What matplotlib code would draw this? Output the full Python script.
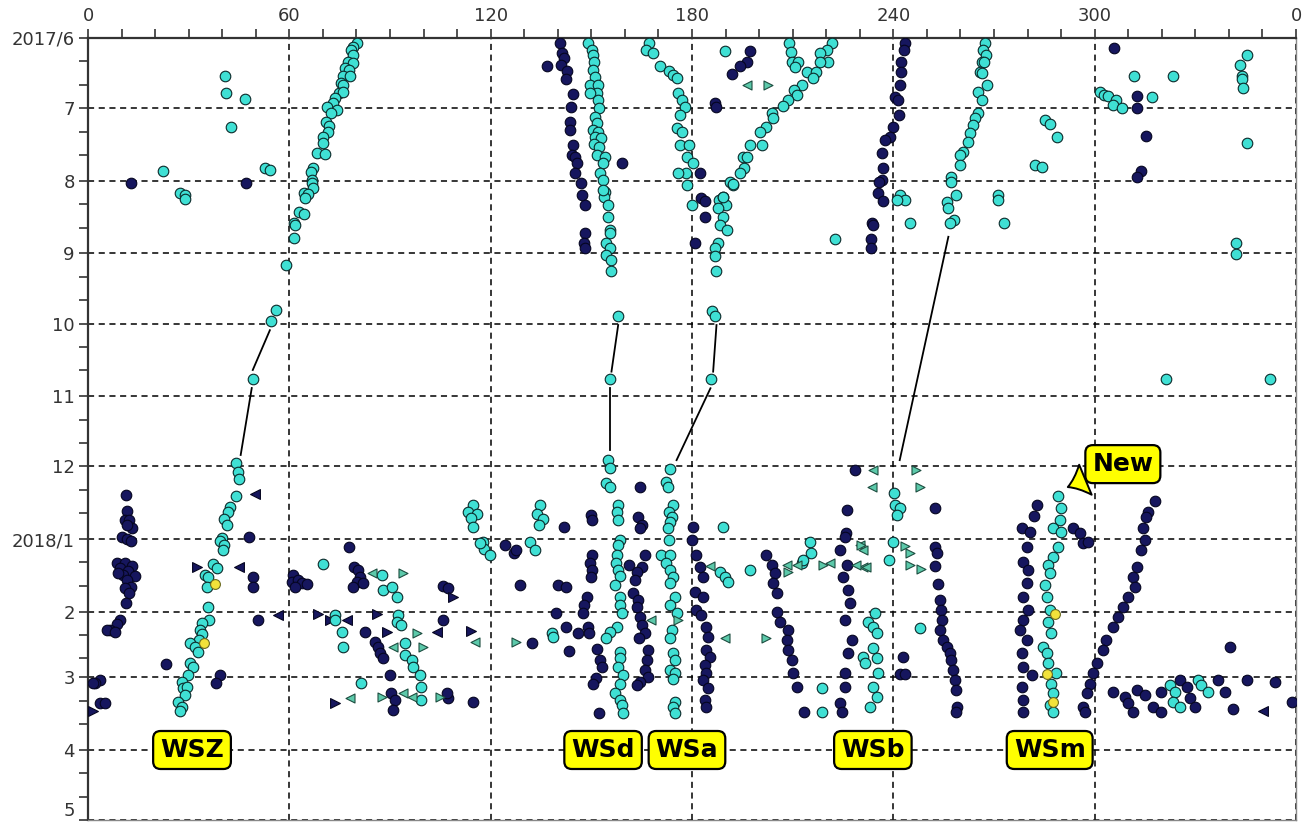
import numpy as np
import pandas as pd
import matplotlib
matplotlib.use('Agg')
import matplotlib.pyplot as plt

# x: degrees (0-360), y: days since 2017/6/1
START = pd.Timestamp('2017-06-01')
MONTHS = pd.date_range('2017-06-01', periods=12, freq='MS')
month_labels = ['2017/6', '7', '8', '9', '10', '11', '12', '2018/1', '2', '3', '4', '5']
x_ticks = [0, 60, 120, 180, 240, 300, 360]
x_labels = ['0', '60', '120', '180', '240', '300', '0']

cyan_pts = [
    # WSZ upper track
    (80.2, 2), (79.0, 3.8), (78.4, 5.1), (79.0, 7.3), (77.5, 10.3), (79.0, 10.7), (76.6, 12.8),
    (77.8, 13.7), (76.0, 16.2), (78.1, 16.2), (75.4, 19.2), (76.0, 20.1), (74.8, 23.5), (76.0, 23.1),
    (73.6, 25.6), (73.0, 27.8), (71.2, 29.5), (74.2, 30.8), (72.4, 32.0), (70.9, 35.9), (71.8, 37.6),
    (71.5, 40.2), (70.0, 42.3), (70.0, 44.9), (68.2, 49.1), (70.6, 49.6), (67.0, 55.5), (66.4, 57.2),
    (66.7, 60.7), (66.7, 61.9), (67.0, 64.1), (64.4, 66.2), (65.6, 66.6), (64.7, 68.3), (62.9, 74.3),
    (64.4, 75.2), (61.4, 79.0), (61.7, 79.9), (61.4, 85.4), (59.0, 97.0), (56.0, 116.2), (54.5, 120.9),
    (49.2, 145.7),
    (40.8, 16.2), (41.1, 23.4), (46.7, 25.9), (42.5, 37.9), (22.3, 56.9), (52.7, 55.7), (54.2, 56.4),
    (27.4, 66.3), (28.9, 67.1), (28.9, 68.9),
    # WSd upper
    (149.1, 2.3), (150.1, 5.1), (150.6, 7.3), (150.8, 10.1), (150.6, 13.7), (151.1, 16.5), (149.6, 20.1),
    (152.1, 20.1), (151.6, 23.6), (149.6, 23.6), (152.1, 26.5), (152.4, 30.0), (151.1, 33.6), (151.6, 36.4),
    (150.6, 39.3), (152.1, 40.0), (151.1, 42.2), (152.8, 42.8), (150.8, 45.3), (152.4, 46.4), (151.6, 50.0),
    (154.1, 50.7), (153.4, 53.5), (152.6, 57.8), (153.6, 60.7), (154.1, 65.6), (153.8, 67.8), (153.6, 64.9),
    (155.0, 71.3), (155.0, 76.6), (155.7, 82.0), (155.5, 83.4), (154.5, 87.7), (155.5, 89.8), (154.5, 92.7),
    (156.0, 94.8), (156.0, 99.4), (157.8, 118.6), (155.5, 145.7), (155.0, 180.3),
    # WSa upper
    (167.3, 2.0), (166.3, 5.1), (168.3, 6.5), (170.4, 12.0), (173.2, 14.0), (174.4, 15.8), (175.4, 17.2),
    (175.9, 23.6), (176.9, 26.5), (177.9, 29.3), (176.4, 32.9), (175.6, 38.6), (176.9, 40.0), (176.4, 45.7),
    (179.2, 45.7), (178.4, 50.7), (180.4, 53.5), (178.2, 57.8), (175.9, 57.8), (178.4, 62.8), (179.9, 71.3),
    (189.8, 5.4),
    (188.1, 69.2), (189.1, 67.8), (190.1, 71.3), (187.8, 72.7), (189.3, 76.6), (188.3, 79.9), (190.5, 82.0),
    (187.8, 87.7), (186.8, 89.8), (186.8, 93.1), (187.3, 99.4), (186.1, 116.5), (186.8, 118.8), (185.8, 145.7),
    # diagonal 222 -> 190
    (221.6, 2.0), (220.1, 5.1), (218.1, 6.3), (220.6, 10.1), (218.1, 10.1), (209.0, 2.3), (209.4, 5.8),
    (209.7, 10.1), (211.7, 10.1), (210.7, 12.2), (214.2, 14.4), (216.9, 14.4), (216.1, 17.2), (212.9, 20.1),
    (210.4, 22.2), (211.2, 24.3), (208.7, 26.5), (207.2, 29.0), (203.7, 32.2), (204.2, 34.3), (202.2, 37.9),
    (200.2, 40.0), (201.0, 45.7), (197.3, 45.7), (195.3, 50.7), (196.3, 50.7), (195.5, 55.7), (194.3, 57.8),
    (191.3, 61.4), (192.3, 62.8), (189.3, 67.8), (192.3, 62.4), (222.6, 86.0),
    # WSb upper cyan
    (267.3, 2.0), (266.8, 5.1), (267.6, 7.3), (266.3, 10.1), (267.0, 10.1), (265.8, 14.4), (266.3, 15.1),
    (267.8, 20.1), (265.3, 22.9), (266.3, 26.5), (265.3, 32.2), (264.3, 34.3), (263.8, 37.2), (262.8, 40.7),
    (262.3, 44.3), (260.8, 48.6), (259.8, 50.0), (259.8, 54.3), (257.3, 59.3), (257.3, 61.4), (258.6, 67.1),
    (255.9, 69.9), (256.4, 72.7), (258.0, 77.7), (256.9, 79.2),
    (271.2, 67.1), (271.2, 69.2), (272.9, 79.2), (244.9, 79.2), (241.9, 67.1), (243.4, 69.2), (241.0, 69.2),
    # upper right
    (345.3, 7.3), (343.3, 11.5), (343.8, 16.2), (344.0, 17.6), (344.2, 21.5), (311.7, 16.2), (323.2, 16.2),
    (301.5, 22.9), (302.7, 24.3), (304.0, 24.8), (306.5, 26.5), (305.5, 28.6), (308.0, 30.0), (317.2, 25.3),
    (285.2, 35.0), (286.6, 36.7), (288.8, 42.4), (345.3, 45.0), (282.2, 54.3), (284.2, 55.0),
    (342.1, 87.7), (342.1, 92.3), (321.4, 145.8), (352.4, 145.8),
    # WSZ lower
    (44.1, 181.7), (44.8, 185.2), (45.1, 188.5), (44.1, 195.6), (42.3, 200.2), (41.8, 202.3), (40.5, 205.6),
    (41.3, 208.0), (39.8, 213.7), (39.3, 214.7), (40.5, 216.6), (40.1, 218.7), (37.2, 224.7), (38.4, 226.5),
    (34.9, 229.4), (35.8, 230.4), (35.5, 234.4), (35.8, 242.9), (36.1, 248.6), (33.9, 249.8), (33.4, 252.9),
    (33.9, 254.6), (33.2, 257.2), (30.4, 258.3), (31.9, 260.0), (32.9, 262.2), (30.4, 267.1), (31.4, 268.6),
    (29.9, 272.1), (27.9, 275.0), (28.4, 277.8), (29.4, 277.1), (28.9, 280.6), (26.9, 283.5), (27.9, 285.6),
    (27.4, 287.3),
    # 60-120 cluster
    (69.9, 224.7), (87.5, 229.4), (88.0, 235.8), (90.5, 234.4), (92.0, 238.7), (73.6, 246.5), (73.6, 248.6),
    (75.6, 253.6), (76.1, 260.3), (92.5, 246.5), (92.0, 249.3), (93.4, 250.7), (94.5, 258.3), (94.5, 263.6),
    (96.5, 265.7), (96.9, 268.6), (99.0, 272.1), (99.2, 277.1), (99.2, 282.8), (81.5, 275.4),
    (114.8, 199.5), (113.3, 202.3), (116.0, 203.3), (114.0, 205.2), (114.6, 209.0), (117.6, 215.2),
    (118.0, 218.4), (119.8, 220.8), (116.8, 215.8),
    (134.7, 199.5), (133.7, 203.3), (135.7, 205.6), (134.5, 208.0), (131.7, 215.2), (133.2, 218.7),
    (138.2, 254.0), (138.6, 255.7),
    # WSd lower
    (155.5, 183.8), (154.5, 190.2), (155.7, 191.7), (158.0, 199.5), (157.5, 202.3), (158.0, 205.9),
    (158.5, 214.4), (158.0, 216.6), (157.5, 220.8), (157.3, 224.4), (158.0, 227.3), (158.5, 229.8),
    (157.0, 233.7), (158.5, 238.7), (158.5, 242.2), (159.0, 245.8), (157.5, 251.4), (155.5, 253.6),
    (154.5, 256.4), (158.5, 262.2), (158.5, 265.0), (158.0, 268.6), (159.5, 272.1), (158.5, 275.7),
    (157.0, 279.9), (158.5, 282.8), (159.0, 284.9), (159.3, 288.5),
    # WSa lower
    (173.4, 184.2), (172.4, 189.5), (172.9, 191.7), (174.4, 199.5), (173.2, 202.3), (173.9, 204.5),
    (173.4, 206.6), (172.9, 209.4), (173.2, 214.4), (170.9, 220.8), (173.4, 220.8), (172.4, 224.4),
    (173.4, 227.3), (174.4, 230.1), (173.4, 232.9), (174.9, 238.7), (173.4, 242.2), (175.4, 245.8),
    (173.9, 252.9), (173.4, 256.4), (174.4, 262.8), (174.9, 265.7), (173.4, 270.0), (174.9, 271.4),
    (174.4, 273.9), (174.9, 283.5), (174.4, 285.6), (174.9, 288.5),
    (189.1, 209.0), (188.3, 228.0), (189.8, 230.1), (190.8, 232.2),
    # WSb lower area
    (197.3, 227.3), (215.1, 215.2), (215.6, 219.9), (212.7, 224.4), (213.1, 222.9), (218.6, 277.8),
    (218.6, 287.8),
    (240.0, 215.2), (238.8, 222.9), (240.2, 194.5), (240.5, 199.5), (241.9, 200.9), (241.0, 203.8),
    (247.9, 252.2),
    (232.5, 249.3), (234.5, 245.8), (234.0, 251.4), (235.0, 254.3), (234.0, 260.7), (231.0, 264.3),
    (235.0, 265.0), (231.5, 267.1), (235.5, 271.4), (234.0, 277.1), (235.0, 281.4), (233.0, 285.6),
    # WSm
    (289.1, 195.6), (290.1, 200.9), (289.6, 205.9), (287.6, 209.4), (290.1, 210.9), (289.1, 217.3),
    (287.6, 221.6), (286.1, 225.1), (286.6, 228.7), (285.2, 233.7), (285.7, 238.7), (286.6, 244.3),
    (286.1, 249.3), (287.1, 254.3), (284.7, 260.0), (285.7, 262.8), (286.1, 267.1), (288.6, 271.4),
    (287.1, 275.7), (287.6, 279.9), (286.6, 284.9), (287.6, 287.8),
    # bottom right
    (322.4, 276.4), (323.9, 279.2), (323.4, 283.5), (325.4, 285.6), (330.8, 274.2), (331.8, 276.4),
    (333.8, 279.2),
]

navy_pts = [
    (12.7, 62.1), (47.1, 62.1),
    # WSd upper dark
    (140.8, 2.0), (141.4, 6.5), (141.8, 8.7), (141.1, 11.5), (142.8, 14.0), (142.4, 17.6), (144.4, 23.9),
    (143.8, 29.6), (143.6, 35.7), (143.6, 39.3), (144.6, 45.7), (144.1, 50.0), (145.1, 50.7), (145.6, 53.5),
    (145.1, 57.8), (146.8, 62.1), (147.1, 67.1), (148.1, 71.3), (148.1, 83.2), (147.8, 87.7), (148.1, 89.8),
    (136.9, 12.0), (159.0, 53.5),
    (197.3, 5.4), (196.3, 10.1), (194.3, 12.0), (191.8, 15.4), (186.8, 27.9), (187.2, 29.5), (182.5, 57.8),
    (182.8, 68.5), (183.9, 69.5), (183.9, 76.6), (180.9, 87.7),
    # WSb upper dark
    (243.4, 2.0), (243.1, 5.1), (242.4, 10.1), (242.2, 14.4), (242.0, 20.1), (240.5, 25.1), (241.4, 26.5),
    (241.8, 32.9), (240.0, 37.9), (239.0, 42.2), (237.5, 43.6), (236.5, 49.3), (236.8, 55.7), (236.5, 60.7),
    (235.8, 61.4), (235.5, 66.3), (236.8, 69.5), (233.5, 79.2), (234.0, 79.9), (233.2, 86.0), (233.2, 89.8),
    (305.7, 4.4), (312.5, 24.8), (312.5, 30.0), (315.3, 41.9), (313.7, 56.7), (312.5, 59.2),
    # bottom left
    (11.3, 195.2), (11.7, 201.9), (11.0, 205.9), (12.3, 205.9), (13.0, 209.4), (11.7, 208.0), (10.0, 213.0),
    (11.5, 214.1), (12.7, 214.7), (8.5, 224.4), (11.0, 224.4), (13.0, 225.5), (9.5, 226.5), (12.0, 227.5),
    (14.0, 229.8), (10.5, 229.4), (9.0, 228.7), (11.5, 231.5), (12.7, 234.4), (11.0, 235.1), (12.3, 236.9),
    (11.3, 241.2), (9.5, 248.6), (8.7, 250.3), (6.6, 252.9), (5.6, 252.9), (8.0, 253.6), (3.6, 274.2),
    (2.1, 275.4), (1.4, 275.4), (3.6, 283.9), (5.1, 284.2),
    (48.1, 213.0), (49.1, 230.4), (49.1, 234.6), (50.7, 248.6), (39.3, 272.1), (38.1, 275.4), (23.2, 267.4),
    # 60-150
    (61.2, 229.4), (60.7, 232.2), (62.7, 231.5), (63.7, 232.9), (65.2, 233.2), (61.7, 234.4), (77.9, 217.3),
    (79.3, 225.8), (80.5, 227.3), (81.0, 230.1), (80.1, 232.2), (78.9, 234.4), (82.0, 232.9), (82.5, 253.6),
    (85.5, 257.9), (86.5, 260.0), (87.0, 262.8), (88.0, 265.0), (90.0, 272.1), (90.2, 279.9), (91.5, 282.8),
    (91.0, 287.1), (105.7, 234.1), (107.4, 235.1), (105.9, 248.6), (107.4, 282.1), (106.9, 279.9),
    (114.8, 283.5),
    (124.3, 216.6), (126.9, 220.1), (127.5, 218.7), (128.7, 233.7), (132.2, 258.3), (141.8, 209.0),
    (140.1, 233.7), (142.4, 234.4), (139.5, 245.8), (142.4, 251.4), (143.4, 261.7), (146.1, 254.0),
    # WSd dark columns
    (149.8, 203.8), (150.1, 205.9), (150.1, 220.8), (149.6, 224.4), (150.1, 227.3), (149.8, 230.1),
    (148.6, 238.7), (147.8, 242.2), (147.6, 245.8), (149.1, 251.4), (149.4, 254.0), (151.8, 261.1),
    (152.6, 265.7), (153.1, 268.6), (151.4, 273.5), (150.6, 275.7), (152.4, 288.5),
    (164.5, 191.7), (164.0, 204.5), (165.0, 208.0), (164.5, 209.4), (166.0, 220.8), (165.0, 225.8),
    (163.5, 228.0), (163.0, 231.5), (162.5, 237.2), (164.0, 240.1), (163.5, 242.9), (164.5, 247.2),
    (165.0, 250.7), (166.0, 254.3), (164.3, 256.4), (167.0, 261.4), (166.5, 265.7), (166.0, 270.0),
    (167.0, 273.1), (164.5, 275.0), (163.5, 276.4), (161.3, 225.1),
    # east of WSa
    (180.4, 209.0), (179.9, 214.4), (181.3, 220.8), (182.4, 225.8), (183.4, 230.1), (180.9, 236.5),
    (183.4, 238.7), (181.3, 244.3), (182.8, 246.5), (184.3, 251.4), (184.8, 255.7), (184.3, 261.4),
    (185.3, 264.3), (183.9, 267.8), (184.3, 271.4), (183.4, 274.2), (184.8, 277.8), (183.9, 282.8),
    (184.3, 285.6),
    # WSb dark columns
    (202.2, 220.8), (203.7, 225.1), (204.7, 228.7), (204.2, 232.9), (205.2, 237.2), (205.2, 245.1),
    (206.2, 249.3), (208.7, 252.9), (208.2, 257.2), (208.7, 261.4), (209.7, 265.7), (210.2, 271.4),
    (211.2, 277.1), (213.3, 287.8),
    (228.5, 184.5), (226.1, 201.6), (226.0, 211.6), (225.6, 213.0), (224.1, 218.7), (226.1, 225.1),
    (225.1, 230.1), (226.5, 235.8), (227.1, 241.5), (225.6, 248.6), (227.6, 257.2), (226.5, 262.8),
    (225.6, 271.4), (225.6, 277.1), (224.1, 284.2), (224.6, 287.8),
    (242.9, 264.3), (241.9, 271.8), (243.4, 271.8),
    (252.4, 200.9), (252.4, 217.3), (252.9, 220.1), (252.4, 225.5), (253.4, 233.2), (253.9, 240.1),
    (254.1, 244.3), (254.4, 248.6), (253.9, 252.9), (254.9, 257.2), (255.9, 260.0), (256.9, 262.8),
    (257.3, 265.7), (257.8, 270.0), (258.3, 274.2), (258.8, 278.5), (259.0, 285.6), (258.8, 287.8),
    # WSm dark
    (282.7, 199.5), (281.9, 204.2), (278.2, 209.4), (280.7, 210.9), (279.7, 217.3), (278.7, 223.7),
    (280.2, 227.3), (279.7, 232.9), (278.7, 238.7), (280.2, 244.3), (278.7, 248.6), (277.7, 252.9),
    (279.7, 257.2), (278.2, 262.8), (278.7, 268.6), (281.2, 272.1), (278.2, 277.1), (278.7, 282.8),
    (278.7, 287.8),
    (293.6, 209.4), (295.6, 211.6), (296.6, 215.8), (298.1, 215.2),
    (317.9, 197.6), (315.9, 202.3), (315.4, 204.5), (314.4, 209.4), (314.9, 214.4), (313.9, 218.7),
    (312.5, 225.8), (311.5, 230.1), (312.0, 234.4), (310.0, 238.7), (308.5, 242.9), (307.0, 247.2),
    (305.5, 251.4), (303.5, 257.2), (302.5, 261.4), (300.6, 267.1), (299.6, 271.4), (298.6, 275.7),
    (297.6, 279.9), (296.6, 285.6), (297.1, 287.8),
    # bottom right
    (305.5, 279.2), (309.0, 281.4), (310.0, 284.2), (311.5, 287.8), (312.5, 278.5), (314.9, 280.6),
    (317.4, 285.6), (319.9, 287.8), (319.9, 279.2), (325.4, 274.2), (327.4, 277.1), (328.4, 282.1),
    (329.9, 285.6), (336.8, 274.2), (338.8, 279.2), (341.3, 286.5), (340.3, 260.0), (345.3, 274.2),
    (353.7, 275.0), (358.7, 283.5),
]

yellow_pts = [(37.8, 233.2), (34.6, 258.3), (288.1, 246.0), (285.8, 271.8), (287.6, 283.5)]

tri_cyan_left = [(196.3, 20.1), (84.5, 228.7), (91.0, 260.3), (78.1, 282.1), (94.0, 279.9), (96.5, 281.4),
                 (115.3, 257.9), (167.9, 248.6), (185.3, 225.5), (189.8, 256.4), (211.2, 225.1),
                 (234.0, 184.5), (233.5, 191.7), (231.0, 225.8), (229.0, 225.1), (208.2, 225.1),
                 (221.1, 224.4), (230.0, 216.6), (231.0, 218.7), (232.0, 225.8)]
tri_cyan_right = [(202.7, 20.1), (94.0, 228.7), (97.9, 254.0), (99.9, 260.3), (87.5, 281.4), (104.9, 281.4),
                  (127.5, 257.9), (175.9, 248.6), (219.1, 225.1), (208.7, 228.0), (230.5, 216.6),
                  (202.2, 256.4), (243.6, 216.8), (245.0, 219.8), (245.0, 225.3), (248.2, 226.9),
                  (247.9, 191.7), (246.9, 184.5)]
tri_dark_left = [(49.8, 194.8), (45.1, 225.8), (56.7, 246.5), (77.1, 248.6), (103.9, 253.6), (350.2, 287.3)]
tri_dark_right = [(1.6, 287.3), (32.4, 225.8), (68.6, 246.0), (72.1, 248.6), (86.0, 246.0), (89.0, 253.6),
                  (73.6, 284.2), (108.7, 238.7), (114.0, 253.2)]

# connector segments (x0, y0, x1, y1)
links = [(54.2, 124.8, 49.1, 141.8), (48.8, 149.5, 45.5, 178.1),
         (158.0, 122.6, 156.0, 142.5), (155.7, 149.6, 155.7, 176.0),
         (187.3, 122.6, 186.3, 142.5), (185.5, 149.6, 175.4, 180.3),
         (256.4, 84.9, 241.9, 180.3)]

group_labels = ['WSZ', 'WSd', 'WSa', 'WSb', 'WSm']
group_label_x = [31.0, 153.5, 178.5, 233.9, 286.6]
group_label_y = 304.1

CYAN = '#3fe0d4'
NAVY = '#16165e'
TRI = '#5cc9aa'

plt.rcParams['font.family'] = ['Liberation Sans Narrow', 'DejaVu Sans']

fig = plt.figure(figsize=(13.06, 8.25), dpi=100)
ax = fig.add_axes([88 / 1306, 5 / 825, 1208 / 1306, 782 / 825])

month_days = [(m - START).days for m in MONTHS]
minor_days = [d + k for d in month_days[:-1] for k in (10, 20)]

for x0, y0, x1, y1 in links:
    ax.plot([x0, x1], [y0, y1], color='black', lw=1.3, zorder=2)


def pts(lst):
    a = np.array(lst, dtype=float)
    return a[:, 0], a[:, 1]


x, y = pts(navy_pts)
ax.scatter(x, y, s=58, c=NAVY, edgecolors='#050520', linewidths=0.8, zorder=3)
x, y = pts(cyan_pts)
ax.scatter(x, y, s=58, c=CYAN, edgecolors='#0b2a2a', linewidths=0.8, zorder=4)
x, y = pts(yellow_pts)
ax.scatter(x, y, s=50, c='#f2e23a', edgecolors='#6a6a20', linewidths=0.8, zorder=5)
x, y = pts(tri_cyan_left)
ax.scatter(x, y, s=42, marker='<', c=TRI, edgecolors='#1d4d40', linewidths=0.8, zorder=4)
x, y = pts(tri_cyan_right)
ax.scatter(x, y, s=42, marker='>', c=TRI, edgecolors='#1d4d40', linewidths=0.8, zorder=4)
x, y = pts(tri_dark_left)
ax.scatter(x, y, s=50, marker='<', c=NAVY, edgecolors='#050520', linewidths=0.8, zorder=3)
x, y = pts(tri_dark_right)
ax.scatter(x, y, s=50, marker='>', c=NAVY, edgecolors='#050520', linewidths=0.8, zorder=3)

box = dict(boxstyle='round,pad=0.28,rounding_size=0.3', fc='#ffff00', ec='black', lw=1.6)
for lab, lx in zip(group_labels, group_label_x):
    ax.text(lx, group_label_y, lab, ha='center', va='center', fontsize=18, fontweight='bold',
            bbox=box, zorder=6)

ax.annotate('New', xy=(292.0, 191.8), xytext=(308.4, 182.0), ha='center', va='center',
            fontsize=18, fontweight='bold', bbox=box, zorder=6,
            arrowprops=dict(arrowstyle='wedge,tail_width=1.3,shrink_factor=0.4',
                            fc='#ffff00', ec='black', lw=1.4, shrinkA=0, shrinkB=0))

ax.set_xlim(0, 360)
ax.set_ylim(334, 0)
ax.xaxis.tick_top()
ax.set_xticks(x_ticks)
ax.set_xticklabels(x_labels)
ax.set_xticks(np.arange(0, 361, 10), minor=True)
ax.set_yticks(month_days)
ax.set_yticklabels(month_labels)
ax.set_yticks(minor_days, minor=True)
ax.tick_params(which='both', direction='out', length=6.5, width=1.2, color='#333333',
               labelsize=13, labelcolor='#333333', pad=3)
ax.tick_params(axis='x', which='both', top=True, bottom=False)
ax.grid(which='major', color='black', linestyle=(0, (4, 3)), linewidth=1.1, zorder=1)
ax.set_axisbelow(True)
# keep the bottom month label inside the figure
ax.get_yticklabels()[-1].set_verticalalignment('bottom')

for side in ['left', 'top']:
    ax.spines[side].set_color('#333333')
    ax.spines[side].set_linewidth(1.6)
for side in ['right', 'bottom']:
    ax.spines[side].set_color('#888888')
    ax.spines[side].set_linewidth(1.0)

fig.savefig('out.png', dpi=100)
